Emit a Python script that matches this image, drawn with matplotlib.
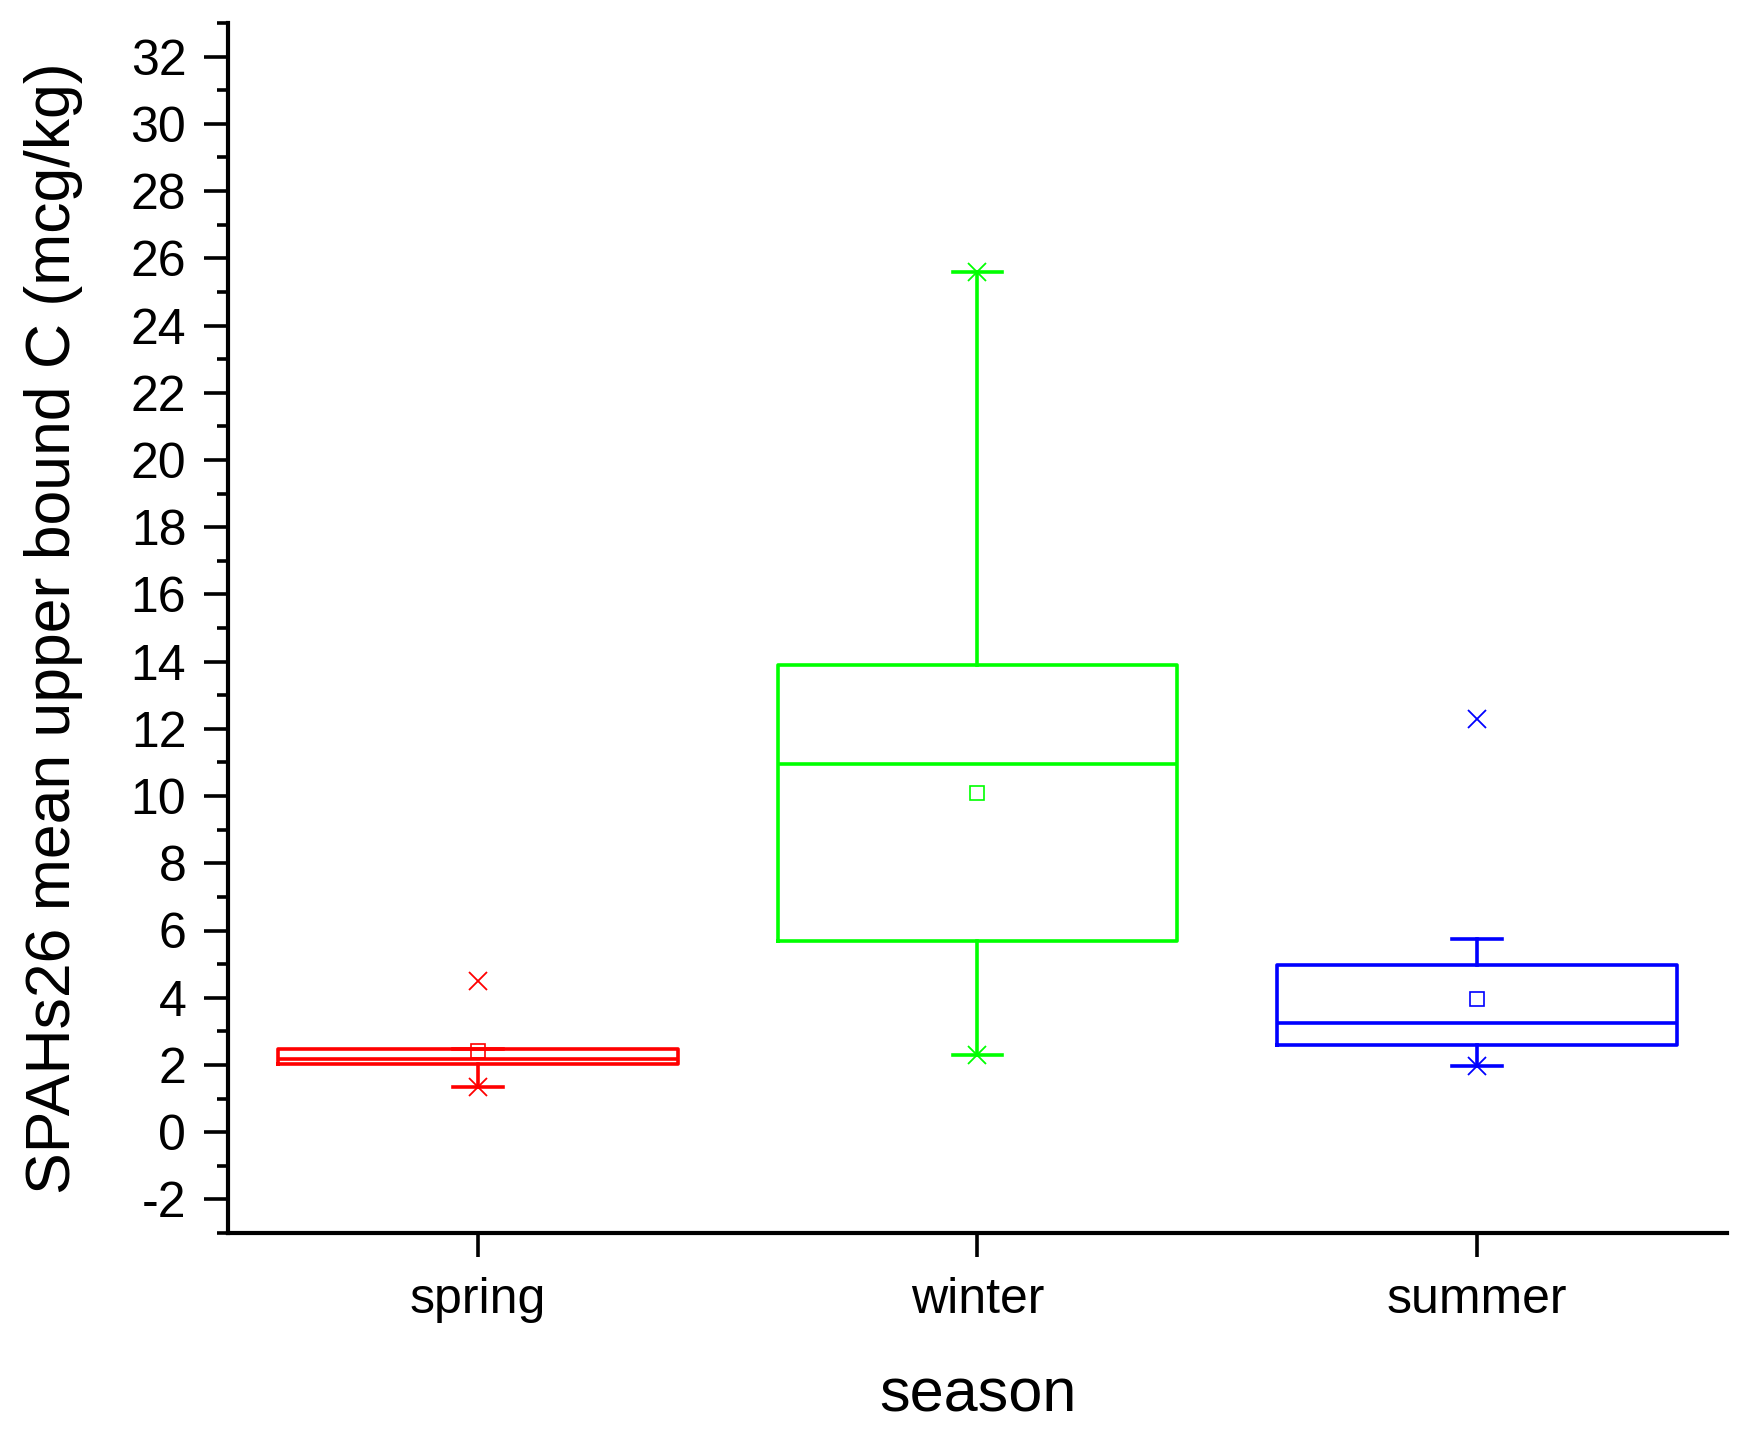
import matplotlib
matplotlib.use("Agg")
import matplotlib.pyplot as plt
from matplotlib.ticker import MultipleLocator

plt.rcParams['font.family'] = ['Liberation Sans', 'DejaVu Sans']
plt.rcParams['axes.unicode_minus'] = False

# Box statistics (mcg/kg)
seasons = ["spring", "winter", "summer"]
q1 = [2.02, 5.7, 2.6]
medians = [2.17, 10.95, 3.25]
q3 = [2.48, 13.9, 4.97]
means = [2.42, 10.1, 3.97]
whisker_lo = [1.35, 2.3, 1.97]
whisker_hi = [2.48, 25.6, 5.75]
data_min = [1.35, 2.3, 1.97]
data_max = [4.5, 25.6, 12.3]
colors = ["#FF0000", "#00FF00", "#0000FF"]

fig = plt.figure(figsize=(17.58, 14.33), dpi=100)
ax = fig.add_axes([228 / 1758, 200 / 1433, 1499 / 1758, 1210 / 1433])

positions = list(range(1, len(seasons) + 1))

for i, pos in enumerate(positions):
    stats = [{
        "med": medians[i], "q1": q1[i], "q3": q3[i],
        "whislo": whisker_lo[i], "whishi": whisker_hi[i],
        "fliers": [], "label": seasons[i],
    }]
    c = colors[i]
    ax.bxp(stats, positions=[pos], widths=0.8, capwidths=0.1,
           showfliers=False, manage_ticks=False,
           boxprops=dict(color=c, linewidth=2.6),
           medianprops=dict(color=c, linewidth=2.6),
           whiskerprops=dict(color=c, linewidth=2.6),
           capprops=dict(color=c, linewidth=2.6))
    # mean as open square
    ax.plot(pos, means[i], marker='s', markersize=10, markerfacecolor='none',
            markeredgecolor=c, markeredgewidth=1.2, linestyle='none')
    # min and max as crosses
    ax.plot([pos, pos], [data_min[i], data_max[i]], marker='x', markersize=13,
            markeredgecolor=c, markeredgewidth=1.3, linestyle='none')

ax.set_xlim(0.5, 3.5)
ax.set_ylim(-3, 33)
ax.set_xticks(positions)
ax.set_xticklabels(seasons)
ax.yaxis.set_major_locator(MultipleLocator(2))
ax.yaxis.set_minor_locator(MultipleLocator(1))
ax.set_yticks(range(-2, 33, 2))

for side in ["top", "right"]:
    ax.spines[side].set_visible(False)
for side in ["left", "bottom"]:
    ax.spines[side].set_linewidth(3)

ax.tick_params(axis='both', which='major', direction='out', length=17,
               width=2.6, labelsize=36)
ax.tick_params(axis='y', which='major', pad=13)
ax.tick_params(axis='x', which='major', pad=15)
ax.tick_params(axis='y', which='minor', direction='out', length=8, width=2.6)

ax.set_ylabel("SPAHs26 mean upper bound C (mcg/kg)", fontsize=45)
ax.yaxis.set_label_coords(-0.097, 0.5)
ax.set_xlabel("season", fontsize=44, va='top')
ax.xaxis.set_label_coords(0.5, -0.111)

fig.savefig("out.png", dpi=100)
